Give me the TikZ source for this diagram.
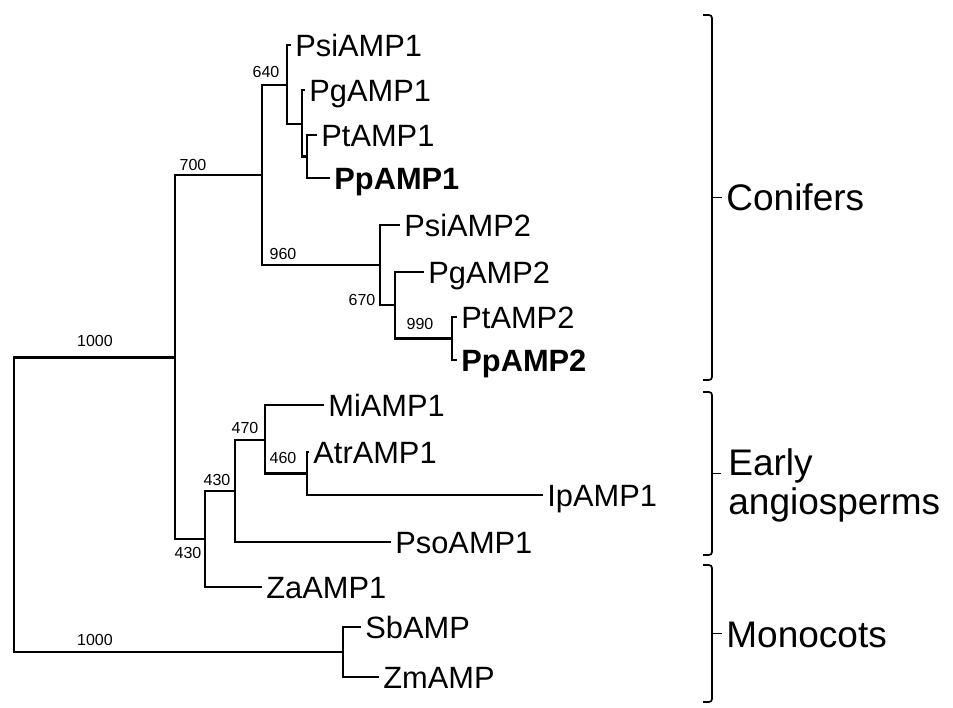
\documentclass[tikz,border=0pt]{standalone}
\usepackage{fontspec}
\setmainfont{Liberation Sans}
\begin{document}
\begin{tikzpicture}[x=0.5pt,y=-0.5pt,
  branch/.style={line width=1.1pt},
  bracket/.style={line width=0.85pt,rounded corners=1.5pt},
  leaf/.style={anchor=west,inner sep=2pt,font=\fontsize{15.4}{18}\selectfont,text height=11pt,text depth=0pt},
  boot/.style={inner sep=0pt,font=\fontsize{8}{9}\selectfont},
  clade/.style={anchor=west,inner sep=2pt,align=left,font=\fontsize{18.5}{19.5}\selectfont}]
\useasboundingbox (0,0) rectangle (953,707);

% internal nodes
\coordinate (R) at (14,504.5);
\coordinate (A) at (175,357.5);
\coordinate (C) at (262,175);
\coordinate (P1) at (287,85);
\coordinate (P2) at (302,124);
\coordinate (P3) at (307,156.5);
\coordinate (Q1) at (380,265);
\coordinate (Q2) at (395,305);
\coordinate (Q3) at (452,338.5);
\coordinate (E1) at (205,539);
\coordinate (E2) at (235,491);
\coordinate (E3) at (265,440);
\coordinate (E4) at (307,473.5);
\coordinate (M) at (343,652);

% leaves
\node[leaf] (PsiAMP1) at (291,45) {PsiAMP1};
\node[leaf] (PgAMP1) at (305,90) {PgAMP1};
\node[leaf] (PtAMP1) at (317,135) {PtAMP1};
\node[leaf] (PpAMP1) at (330,178) {\bfseries PpAMP1};
\node[leaf] (PsiAMP2) at (400,225) {PsiAMP2};
\node[leaf] (PgAMP2) at (424,272) {PgAMP2};
\node[leaf] (PtAMP2) at (457,317) {PtAMP2};
\node[leaf] (PpAMP2) at (457,360) {\bfseries PpAMP2};
\node[leaf] (MiAMP1) at (324,405) {MiAMP1};
\node[leaf] (AtrAMP1) at (309,452) {AtrAMP1};
\node[leaf] (IpAMP1) at (543,495) {IpAMP1};
\node[leaf] (PsoAMP1) at (391,542) {PsoAMP1};
\node[leaf] (ZaAMP1) at (262,587) {ZaAMP1};
\node[leaf] (SbAMP) at (361,627) {SbAMP};
\node[leaf] (ZmAMP) at (379,677) {ZmAMP};

% branches
\draw[branch] (R) |- (A);
\draw[branch] (R) |- (M);
\draw[branch] (A) |- (C);
\draw[branch] (A) |- (E1);
\draw[branch] (C) |- (P1);
\draw[branch] (C) |- (Q1);
\draw[branch] (P1) |- (PsiAMP1.west);
\draw[branch] (P1) |- (P2);
\draw[branch] (P2) |- (PgAMP1.west);
\draw[branch] (P2) |- (P3);
\draw[branch] (P3) |- (PtAMP1.west);
\draw[branch] (P3) |- (PpAMP1.west);
\draw[branch] (Q1) |- (PsiAMP2.west);
\draw[branch] (Q1) |- (Q2);
\draw[branch] (Q2) |- (PgAMP2.west);
\draw[branch] (Q2) |- (Q3);
\draw[branch] (Q3) |- (PtAMP2.west);
\draw[branch] (Q3) |- (PpAMP2.west);
\draw[branch] (E1) |- (E2);
\draw[branch] (E1) |- (ZaAMP1.west);
\draw[branch] (E2) |- (E3);
\draw[branch] (E2) |- (PsoAMP1.west);
\draw[branch] (E3) |- (MiAMP1.west);
\draw[branch] (E3) |- (E4);
\draw[branch] (E4) |- (AtrAMP1.west);
\draw[branch] (E4) |- (IpAMP1.west);
\draw[branch] (M) |- (SbAMP.west);
\draw[branch] (M) |- (ZmAMP.west);

% bootstrap values
\node[boot] (b640) at (266,72) {640};
\node[boot] (b700) at (193,165) {700};
\node[boot] (b960) at (283,254) {960};
\node[boot] (b670) at (362,300) {670};
\node[boot] (b990) at (420,324) {990};
\node[boot] (b1000a) at (95,341) {1000};
\node[boot] (b1000b) at (95,640) {1000};
\node[boot] (b470) at (245,428) {470};
\node[boot] (b460) at (283,458) {460};
\node[boot] (b430a) at (217,480) {430};
\node[boot] (b430b) at (188,553) {430};

% clade brackets
\draw[bracket] (703,15) -- (712,15) -- (712,380) -- (703,380);
\draw[bracket] (703,392) -- (712,392) -- (712,555) -- (703,555);
\draw[bracket] (703,565) -- (712,565) -- (712,702) -- (703,702);
\coordinate (cb) at (712,197.5);
\coordinate (eb) at (712,473.5);
\coordinate (mb) at (712,633.5);
\node[clade] (conif) at (722,197.5) {Conifers};
\node[clade] (early) at (724,485) {Early\\angiosperms};
\node[clade] (mono) at (722,635) {Monocots};
\draw[bracket] (cb) -- (conif.west);
\draw[bracket] (eb) -- ++(9,0);
\draw[bracket] (mb) -- ++(10,0);
\end{tikzpicture}
\end{document}
